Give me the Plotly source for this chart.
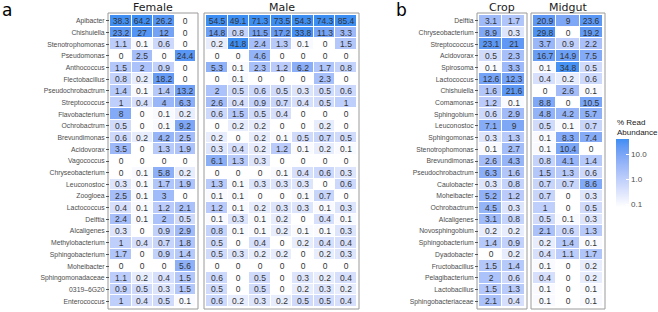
import numpy as np
import plotly.graph_objects as go

# ---------------- data ----------------
taxa_a = ["Apibacter", "Chishuiella", "Stenotrophomonas", "Pseudomonas", "Anthococcus",
          "Flectobacillus", "Pseudochrobactrum", "Streptococcus", "Flavobacterium",
          "Ochrobactrum", "Brevundimonas", "Acidovorax", "Vagococcus", "Chryseobacterium",
          "Leuconostoc", "Zoogloea", "Lactococcus", "Delftia", "Alcaligenes",
          "Methylobacterium", "Sphingobacterium", "Moheibacter", "Sphingomonadaceae",
          "0319\u20136G20", "Enterococcus"]
female = [
    [38.3, 64.2, 26.2, 0], [23.2, 27, 12, 0], [1.1, 0.1, 0.6, 0], [0, 2.5, 0, 24.4],
    [1.5, 2, 0.9, 0], [0.8, 0.2, 18.2, 0], [1.4, 0.1, 1.4, 13.2], [1, 0.4, 4, 6.3],
    [8, 0, 0.1, 0.2], [0.5, 0, 0.1, 9.2], [0.6, 0.2, 4.2, 2.5], [3.5, 0, 1.3, 1.9],
    [0, 0, 0, 0], [0, 0.1, 5.8, 0.2], [0.3, 0.1, 1.7, 1.9], [2.5, 0.1, 3, 0],
    [0.4, 0.1, 1.2, 2.1], [2.4, 0.1, 2, 0.5], [0.3, 0, 0.9, 2.9], [1, 0.4, 0.7, 1.8],
    [1.7, 0, 0.9, 1.4], [0, 0, 0, 5.6], [1.1, 0.2, 0.4, 1.5], [0.9, 0.5, 0.3, 1.5],
    [1, 0.4, 0.5, 0.1]]
male = [
    [54.5, 49.1, 71.3, 73.5, 54.3, 74.3, 85.4], [14.8, 0.8, 11.5, 17.2, 33.8, 11.3, 3.3],
    [0.2, 41.8, 2.4, 1.3, 0.1, 0, 1.5], [0, 0, 4.6, 0, 0, 0, 0],
    [5.3, 0.1, 2.3, 1.2, 6.2, 1.7, 0.8], [0, 0.1, 0, 0, 0, 2.3, 0],
    [2, 0.5, 0.6, 0.5, 0.3, 0.5, 0.6], [2.6, 0.4, 0.9, 0.7, 0.4, 0.5, 1],
    [0.6, 1.5, 0.5, 0.4, 0, 0, 0], [0, 0.2, 0.2, 0, 0, 0.2, 0],
    [0.2, 0, 0.2, 0.1, 0.5, 0.7, 0.5], [0.3, 0.4, 0.2, 1.2, 0.1, 0.2, 0.1],
    [6.1, 1.3, 0.3, 0, 0, 0, 0], [0, 0, 0, 0.1, 0.4, 0.6, 0.3],
    [1.3, 0.1, 0.3, 0.3, 0.3, 0, 0.6], [0.1, 0.1, 0, 0, 0.1, 0.7, 0],
    [1.2, 0.1, 0.2, 0.3, 0.3, 0.1, 0.3], [0.1, 0.3, 0.1, 0.2, 0, 0.4, 0.1],
    [0.8, 0.1, 0.1, 0.2, 0.1, 0.1, 0.3], [0.5, 0, 0.4, 0, 0.2, 0.4, 0.4],
    [0.5, 0.3, 0.2, 0.2, 0, 0.2, 0.3], [0, 0, 0, 0, 0, 0, 0],
    [0.6, 0, 0.5, 0, 0.3, 0.2, 0.4], [0.5, 0, 0.5, 0, 0.2, 0.3, 0.2],
    [0.6, 0.2, 0.3, 0.2, 0.5, 0.5, 0.4]]

taxa_b = ["Delftia", "Chryseobacterium", "Streptococcus", "Acidovorax", "Spirosoma",
          "Lactococcus", "Chishuiella", "Comamonas", "Sphingobium", "Leuconostoc",
          "Sphingomonas", "Stenotrophomonas", "Brevundimonas", "Pseudochrobactrum",
          "Caulobacter", "Moheibacter", "Ochrobactrum", "Alcaligenes", "Novosphingobium",
          "Sphingobacterium", "Dyadobacter", "Fructobacillus", "Pelagibacterium",
          "Lactobacillus", "Sphingobacteriaceae"]
crop = [[3.1, 1.7], [8.9, 0.3], [23.1, 21], [0.5, 2.3], [0.1, 3.3], [12.6, 12.3],
        [1.6, 21.6], [1.2, 0.1], [0.6, 2.9], [7.1, 9], [0.3, 1.3], [0.1, 2.7],
        [2.6, 4.3], [6.3, 1.6], [0.3, 0.8], [5.2, 1.2], [4.5, 0.3], [3.1, 0.8],
        [0.2, 0.2], [1.4, 0.9], [0, 0.2], [1.5, 1.4], [2, 0.6], [1.5, 1.3], [2.1, 0.4]]
midgut = [[20.9, 9, 23.6], [29.8, 0, 19.2], [3.7, 0.9, 2.2], [16.7, 14.9, 7.5],
          [0.1, 34.8, 0.5], [0.4, 0.2, 0.6], [0, 2.6, 0.1], [8.8, 0, 10.5],
          [4.8, 4.2, 5.7], [0.5, 0.1, 0.7], [0.1, 8.3, 7.4], [0.1, 10.4, 0],
          [0.8, 4.1, 1.4], [1.5, 1.3, 0.6], [0.7, 0.7, 8.6], [0.7, 0, 0.3],
          [1, 0, 0.5], [0.5, 0.1, 0.3], [2.1, 0.6, 1.3], [0.2, 1.4, 0.1],
          [0.4, 1.1, 1.7], [0.1, 0, 0.2], [0.4, 0, 0.2], [0.1, 0, 0.1], [0.1, 0, 0.1]]

legend_ticks = [0.1, 1.0, 10.0]
legend_ticktext = ["0.1", "1.0", "10.0"]

# ---------------- styling helpers ----------------
W, H = 658, 312
ZMIN, ZMAX = -1.12, 1.62
LOW, HIGH = "#FFFFFF", "#3D8EF3"


def _to_lab(hexc):
    rgb = np.array([int(hexc[i:i + 2], 16) for i in (1, 3, 5)]) / 255.0
    lin = np.where(rgb <= 0.04045, rgb / 12.92, ((rgb + 0.055) / 1.055) ** 2.4)
    M = np.array([[0.4124, 0.3576, 0.1805], [0.2126, 0.7152, 0.0722], [0.0193, 0.1192, 0.9505]])
    xyz = M @ lin / np.array([0.95047, 1.0, 1.08883])
    f = np.where(xyz > 0.008856, np.cbrt(xyz), 7.787 * xyz + 16 / 116)
    return np.array([116 * f[1] - 16, 500 * (f[0] - f[1]), 200 * (f[1] - f[2])])


def _from_lab(lab):
    fy = (lab[0] + 16) / 116
    fx = fy + lab[1] / 500
    fz = fy - lab[2] / 200
    f = np.array([fx, fy, fz])
    xyz = np.where(f ** 3 > 0.008856, f ** 3, (f - 16 / 116) / 7.787) * np.array([0.95047, 1.0, 1.08883])
    Mi = np.array([[3.2406, -1.5372, -0.4986], [-0.9689, 1.8758, 0.0415], [0.0557, -0.2040, 1.0570]])
    lin = np.clip(Mi @ xyz, 0, 1)
    rgb = np.where(lin <= 0.0031308, 12.92 * lin, 1.055 * lin ** (1 / 2.4) - 0.055)
    r, g, b = (np.clip(rgb, 0, 1) * 255).round().astype(int)
    return f"rgb({r},{g},{b})"


la, lb = _to_lab(LOW), _to_lab(HIGH)
colorscale = [[t, _from_lab(la + (lb - la) * t)] for t in np.linspace(0, 1, 11)]


def zt(vals):
    a = np.array(vals, dtype=float)
    return np.where(a > 0, np.log10(np.where(a > 0, a, 1)), ZMIN)


def tt(vals):
    return [["{:g}".format(v) for v in row] for row in vals]


LABEL_FONT = "Liberation Sans, Arial, sans-serif"
HEAD_FONT = "DejaVu Sans, sans-serif"

fig = go.Figure()

panels = [
    # values, rows, x-range(px), axis-suffix, show row labels
    (female, taxa_a, (110, 196), "", True),
    (male, taxa_a, (206, 357), "2", False),
    (crop, taxa_b, (479, 525), "3", True),
    (midgut, taxa_b, (533, 603), "4", False),
]
Y0, Y1 = 15, 307  # px from top of cell area

for vals, rows, (x0, x1), sfx, show in panels:
    ncol = len(vals[0])
    fig.add_trace(go.Heatmap(
        z=zt(vals), x=list(range(ncol)), y=rows, text=tt(vals), texttemplate="%{text}",
        textfont=dict(size=8.5, color="#333333", family=LABEL_FONT),
        coloraxis="coloraxis", xgap=1, ygap=1, hoverinfo="skip",
        xaxis="x" + sfx, yaxis="y" + sfx))
    fig.update_layout(**{
        "xaxis" + sfx: dict(domain=[x0 / W, x1 / W], anchor="y" + sfx, showticklabels=False,
                            showgrid=False, zeroline=False, ticks="", range=[-0.5, ncol - 0.5]),
        "yaxis" + sfx: dict(domain=[(H - Y1) / H, (H - Y0) / H], anchor="x" + sfx,
                            type="category", autorange="reversed", showgrid=False, zeroline=False,
                            showticklabels=show, ticks="outside" if show else "",
                            ticklen=3, tickwidth=0.8, tickcolor="#555555",
                            tickfont=dict(size=6.8, color="#4d4d4d", family=LABEL_FONT)),
    })
    # panel border
    fig.add_shape(type="rect", xref="paper", yref="paper",
                  x0=(x0 - 2) / W, x1=(x1 + 2) / W, y0=(H - Y1 - 2) / H, y1=(H - Y0 + 2) / H,
                  line=dict(color="#9a9a9a", width=1), fillcolor="rgba(0,0,0,0)", layer="below")

headers = [("Female", (110 + 196) / 2), ("Male", (206 + 357) / 2),
           ("Crop", (479 + 525) / 2), ("Midgut", (533 + 603) / 2)]
ann = []
for txt, cx in headers:
    ann.append(dict(text=txt, x=cx / W, y=(H - 7) / H, xref="paper", yref="paper",
                    showarrow=False, xanchor="center", yanchor="middle",
                    font=dict(size=11, color="#1a1a1a", family=HEAD_FONT)))
ann.append(dict(text="a", x=0 / W, y=(H - 10) / H, xref="paper", yref="paper", showarrow=False,
                xanchor="left", yanchor="middle", font=dict(size=17, color="#000", family=HEAD_FONT)))
ann.append(dict(text="b", x=394 / W, y=(H - 10) / H, xref="paper", yref="paper", showarrow=False,
                xanchor="left", yanchor="middle", font=dict(size=17, color="#000", family=HEAD_FONT)))
ann.append(dict(text="% Read<br>Abundance", x=615 / W, y=(H - 116) / H, xref="paper", yref="paper",
                showarrow=False, xanchor="left", yanchor="top", align="left",
                font=dict(size=8, color="#1a1a1a", family=LABEL_FONT)))

fig.update_layout(
    width=W, height=H, margin=dict(l=0, r=0, t=0, b=0),
    paper_bgcolor="white", plot_bgcolor="white",
    annotations=ann,
    coloraxis=dict(
        colorscale=colorscale, cmin=ZMIN, cmax=ZMAX,
        colorbar=dict(x=616 / W, xanchor="left", y=(H - 173) / H, yanchor="middle",
                      lenmode="pixels", len=68, thickness=13, thicknessmode="pixels",
                      outlinewidth=0, xpad=0, ypad=0,
                      tickvals=list(np.log10(legend_ticks)), ticktext=legend_ticktext,
                      ticks="inside", ticklen=3, tickcolor="white",
                      tickfont=dict(size=8, color="#4d4d4d", family=LABEL_FONT)),
    ),
)

fig.write_html("out.html", config={"displayModeBar": False},
               post_script="document.body.style.margin='0px';")
